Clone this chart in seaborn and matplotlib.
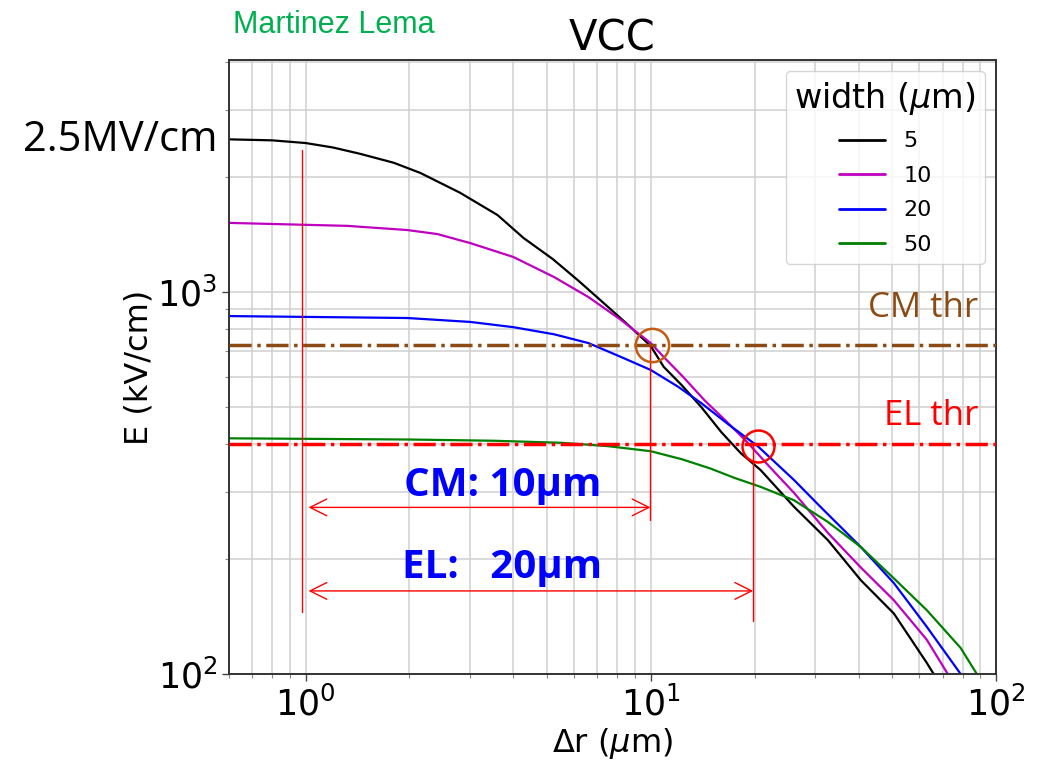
import numpy as np
import pandas as pd
import matplotlib
matplotlib.use("Agg")
import matplotlib.pyplot as plt
import seaborn as sns

# ---- data ----
widths = ["5", "10", "20", "50"]
colors = ["k", "m", "b", "g"]

x5 = [0.6, 0.8, 1.0, 1.2, 1.44, 1.8, 2.15, 2.8, 3.6, 4.28, 5.2, 6.14, 7.3, 8.6, 10, 10.9, 12.3, 14.0, 16, 18.2, 20.8, 26, 32.6, 40.6, 50.6, 63, 66]
e5 = [2510, 2495, 2455, 2390, 2300, 2180, 2050, 1820, 1590, 1385, 1220, 1075, 936, 820, 722, 637, 570, 500, 430, 379, 342, 274, 224, 176, 144, 107, 100]

x10 = [0.6, 1.32, 1.97, 2.41, 3.0, 4.0, 5.25, 6.6, 8.2, 10, 10.9, 12.4, 14.3, 16.5, 19.1, 22, 26, 32.6, 40.6, 50.6, 63, 72.5]
e10 = [1517, 1490, 1453, 1418, 1343, 1235, 1094, 970, 845, 735, 676, 600, 521, 460, 403, 350, 298, 234, 190, 156, 123, 100]

x20 = [0.6, 1.97, 3.0, 4.0, 5.25, 6.6, 8.2, 10, 12, 14.0, 16.8, 20.4, 26, 31, 40.6, 50.6, 63, 79]
e20 = [865, 855, 835, 809, 775, 735, 676, 625, 565, 512, 450, 395, 322, 274, 215, 173, 133, 100]

x50 = [0.6, 2.0, 3.5, 5.5, 7.5, 10, 12.3, 14.9, 17.5, 20.8, 26, 32.6, 40.6, 50.6, 63, 79, 88]
e50 = [414, 411, 408, 403, 395, 383, 365, 345, 326, 309, 285, 250, 215, 178, 147, 117, 100]

cm_thr = 727
el_thr = 400
cm_cross = (10.05, 727)
el_cross = (20.4, 395)

# annotation guide lines
v_lines_x = [0.975, 9.98, 19.8]
v_lines_top = [2355, 727, 395]
v_lines_bot = [145, 253, 138]
arrow_left = 1.02
arrow_y = [273, 165]
arrow_right = [9.98, 19.8]

# ---- build long table ----
frames = []
for w, xs, es in zip(widths, [x5, x10, x20, x50], [e5, e10, e20, e50]):
    frames.append(pd.DataFrame({"dr": xs, "E": es, r"width ($\mu$m)": w}))
df = pd.concat(frames, ignore_index=True)

sns.set_style("ticks")
plt.rcParams["font.family"] = ["DejaVu Sans"]
plt.rcParams["text.color"] = "black"
plt.rcParams["axes.labelcolor"] = "black"
plt.rcParams["xtick.color"] = "black"
plt.rcParams["ytick.color"] = "black"

fig = plt.figure(figsize=(10.45, 7.68), dpi=100)
ax = fig.add_axes([0.2191, 0.1224, 0.734, 0.7995])

sns.lineplot(data=df, x="dr", y="E", hue=r"width ($\mu$m)", hue_order=widths,
             palette=dict(zip(widths, colors)), sort=False, estimator=None,
             lw=1.6, ax=ax)

ax.set_xscale("log")
ax.set_yscale("log")
ax.set_xlim(0.6, 100)
ax.set_ylim(100, 4050)
ax.yaxis.set_minor_formatter(matplotlib.ticker.NullFormatter())
ax.xaxis.set_minor_formatter(matplotlib.ticker.NullFormatter())

ax.grid(True, which="both", color="#cfcfcf", lw=1.1)
ax.set_axisbelow(True)
for s in ax.spines.values():
    s.set_visible(True)
    s.set_color("#333333")
    s.set_linewidth(1.4)
ax.tick_params(which="major", length=5, width=1, labelsize=25, color="#444444")
ax.tick_params(which="minor", length=3, width=0.8, color="#888888")

ax.set_xlabel(r"$\Delta$r ($\mu$m)", fontsize=23, labelpad=3)
ax.set_ylabel("E (kV/cm)", fontsize=23, labelpad=2)
ax.set_title("VCC", fontsize=30, pad=6)

# thresholds
ax.axhline(cm_thr, color="#8c4a14", ls="-.", lw=2.5, zorder=3)
ax.axhline(el_thr, color="#ff0000", ls="-.", lw=2.5, zorder=3)
trans = matplotlib.transforms.blended_transform_factory(ax.transAxes, ax.transData)
ax.text(0.977, 861, "CM thr", transform=trans, ha="right", va="baseline",
        color="#8c4a14", fontsize=25, family=["Open Sans", "DejaVu Sans"])
ax.text(0.977, 449, "EL thr", transform=trans, ha="right", va="baseline",
        color="#ff0000", fontsize=25, family=["Open Sans", "DejaVu Sans"])

# crossing circles
ax.plot([cm_cross[0]], [cm_cross[1]], "o", ms=24, mfc="none", mec="#c55a11", mew=1.8, zorder=5)
ax.plot([el_cross[0]], [el_cross[1]], "o", ms=23, mfc="none", mec="#ff0000", mew=1.8, zorder=5)

# guide lines and arrows
for xv, t, b in zip(v_lines_x, v_lines_top, v_lines_bot):
    ax.plot([xv, xv], [b, t], color="#ff0000", lw=1, zorder=4)
for yv, xr in zip(arrow_y, arrow_right):
    ax.annotate("", xy=(xr, yv), xytext=(arrow_left, yv),
                arrowprops=dict(arrowstyle="<->", color="#ff0000", lw=1,
                                mutation_scale=30, shrinkA=0, shrinkB=0))

ax.text(3.72, 312, "CM: 10\u03bcm", ha="center", va="center", color="#0000ff",
        fontsize=29, fontweight="bold", family=["Open Sans", "DejaVu Sans"])
ax.text(3.72, 190, "EL:   20\u03bcm", ha="center", va="center", color="#0000ff",
        fontsize=29, fontweight="bold", family=["Open Sans", "DejaVu Sans"])

# 2.5 MV/cm label on the left
ax.annotate("2.5MV/cm", xy=(0, 2500), xycoords=trans, xytext=(-11, 0),
            textcoords="offset pixels", ha="right", va="center", fontsize=30,
            family=["Open Sans", "DejaVu Sans"], annotation_clip=False)

fig.text(233 / 1045, 1 - 33 / 768, "Martinez Lema", color="#00b050", fontsize=22,
         family=["Liberation Sans", "DejaVu Sans"], va="baseline", ha="left")

sns.move_legend(ax, "upper right", title=r"width ($\mu$m)", title_fontsize=24,
                fontsize=16, frameon=True, borderaxespad=0.5, labelspacing=0.65,
                handlelength=2.1)
leg = ax.get_legend()
for ln in leg.get_lines():
    ln.set_linewidth(2)

fig.savefig("out.png", dpi=100)
